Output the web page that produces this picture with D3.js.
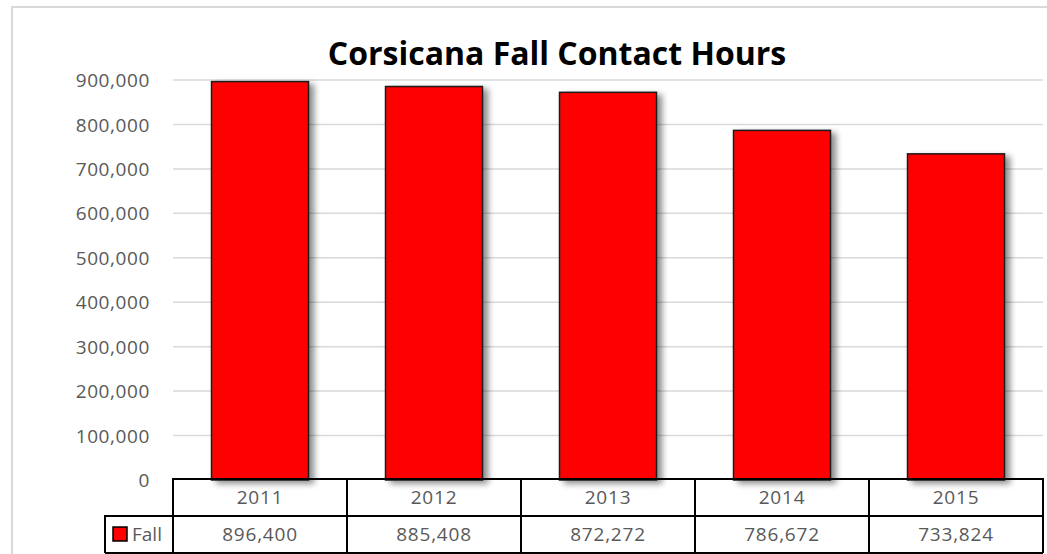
<!DOCTYPE html>
<html>
<head>
<meta charset="utf-8">
<script src="https://cdn.jsdelivr.net/npm/d3@7"></script>
<style>
  body { margin: 0; background: #fff; }
  text { font-family: "Open Sans", "Liberation Sans", sans-serif; }
</style>
</head>
<body>
<div id="chart"></div>
<script>
var years = ["2011", "2012", "2013", "2014", "2015"];
var fall = [896400, 885408, 872272, 786672, 733824];
var yTicks = [0, 100000, 200000, 300000, 400000, 500000, 600000, 700000, 800000, 900000];
var seriesName = "Fall";
var title = "Corsicana Fall Contact Hours";

var width = 1047, height = 554;
var plot = {left: 173, right: 1043, top: 80, bottom: 480};
var rowH = 37;

var svg = d3.select("#chart").append("svg")
    .attr("width", width)
    .attr("height", height);

// drop shadow for the bars
var defs = svg.append("defs");
var f = defs.append("filter").attr("id", "shadow")
    .attr("x", "-20%").attr("y", "-20%").attr("width", "150%").attr("height", "150%");
f.append("feGaussianBlur").attr("in", "SourceAlpha").attr("stdDeviation", 3).attr("result", "blur");
f.append("feOffset").attr("dx", 5).attr("dy", 3).attr("result", "off");
f.append("feComponentTransfer").append("feFuncA").attr("type", "linear").attr("slope", 0.45);
var m = f.append("feMerge");
m.append("feMergeNode");
m.append("feMergeNode").attr("in", "SourceGraphic");

// chart frame
svg.append("rect")
    .attr("x", 12).attr("y", 7)
    .attr("width", width + 20).attr("height", height + 20)
    .attr("fill", "none").attr("stroke", "#d9d9d9").attr("stroke-width", 2);

var x = d3.scaleBand()
    .domain(years)
    .range([plot.left, plot.right])
    .paddingInner(0.443)
    .paddingOuter(0.2215);

var y = d3.scaleLinear()
    .domain([0, 900000])
    .range([plot.bottom, plot.top]);

// gridlines
svg.append("g")
    .selectAll("line")
    .data(yTicks.slice(1))
    .enter().append("line")
    .attr("x1", plot.left).attr("x2", plot.right)
    .attr("y1", function(d) { return y(d); })
    .attr("y2", function(d) { return y(d); })
    .attr("stroke", "#d9d9d9")
    .attr("stroke-width", 1.5);

// y axis labels
var yAxis = d3.axisLeft(y)
    .tickValues(yTicks)
    .tickFormat(d3.format(","))
    .tickSize(0)
    .tickPadding(0);

var ya = svg.append("g")
    .attr("transform", "translate(150,0)")
    .call(yAxis);
ya.select(".domain").remove();
ya.selectAll("text")
    .attr("fill", "#595959")
    .style("font-size", "19px")
    .style("letter-spacing", "0.6px")
    .attr("dy", "0.35em");

// bars
svg.append("g")
    .selectAll("rect")
    .data(fall)
    .enter().append("rect")
    .attr("x", function(d, i) { return x(years[i]); })
    .attr("y", function(d) { return y(d); })
    .attr("width", x.bandwidth())
    .attr("height", function(d) { return y(0) - y(d); })
    .attr("fill", "#ff0000")
    .attr("stroke", "#1a1a1a")
    .attr("stroke-width", 1.5)
    .attr("filter", "url(#shadow)");

// title
svg.append("text")
    .attr("x", 557)
    .attr("y", 65)
    .attr("text-anchor", "middle")
    .style("font-size", "32px")
    .style("font-weight", "bold")
    .attr("fill", "#000")
    .text(title);

// data table
var table = svg.append("g");
var gap = (x.step() - x.bandwidth()) / 2;
var legendLeft = 105;
var row1 = plot.bottom - 1, row2 = row1 + rowH, row3 = row2 + rowH;

table.append("path")
    .attr("d",
      "M" + plot.left + "," + row3 + "V" + row1 + "H" + plot.right + "V" + row3 +
      "M" + legendLeft + "," + row3 + "V" + row2 + "H" + plot.right +
      "M" + legendLeft + "," + row3 + "H" + plot.right)
    .attr("fill", "none")
    .attr("stroke", "#000")
    .attr("stroke-width", 2);

table.selectAll("line.col")
    .data(years.slice(1))
    .enter().append("line")
    .attr("class", "col")
    .attr("x1", function(d) { return x(d) - gap; })
    .attr("x2", function(d) { return x(d) - gap; })
    .attr("y1", row1).attr("y2", row3)
    .attr("stroke", "#000").attr("stroke-width", 2);

table.selectAll("text.year")
    .data(years)
    .enter().append("text")
    .attr("class", "year")
    .attr("x", function(d) { return x(d) + x.bandwidth() / 2; })
    .attr("y", (row1 + row2) / 2)
    .attr("dy", "0.35em")
    .attr("text-anchor", "middle")
    .attr("fill", "#595959")
    .style("font-size", "19px")
    .style("letter-spacing", "0.8px")
    .text(function(d) { return d; });

table.selectAll("text.val")
    .data(fall)
    .enter().append("text")
    .attr("class", "val")
    .attr("x", function(d, i) { return x(years[i]) + x.bandwidth() / 2; })
    .attr("y", (row2 + row3) / 2)
    .attr("dy", "0.35em")
    .attr("text-anchor", "middle")
    .attr("fill", "#595959")
    .style("font-size", "19px")
    .style("letter-spacing", "0.8px")
    .text(function(d) { return d3.format(",")(d); });

// legend key
table.append("rect")
    .attr("x", 113).attr("y", row2 + 11)
    .attr("width", 14).attr("height", 14)
    .attr("fill", "#ff0000")
    .attr("stroke", "#000").attr("stroke-width", 1.5);
table.append("text")
    .attr("x", 132)
    .attr("y", (row2 + row3) / 2)
    .attr("dy", "0.35em")
    .attr("fill", "#595959")
    .style("font-size", "19px")
    .text(seriesName);
</script>
</body>
</html>
